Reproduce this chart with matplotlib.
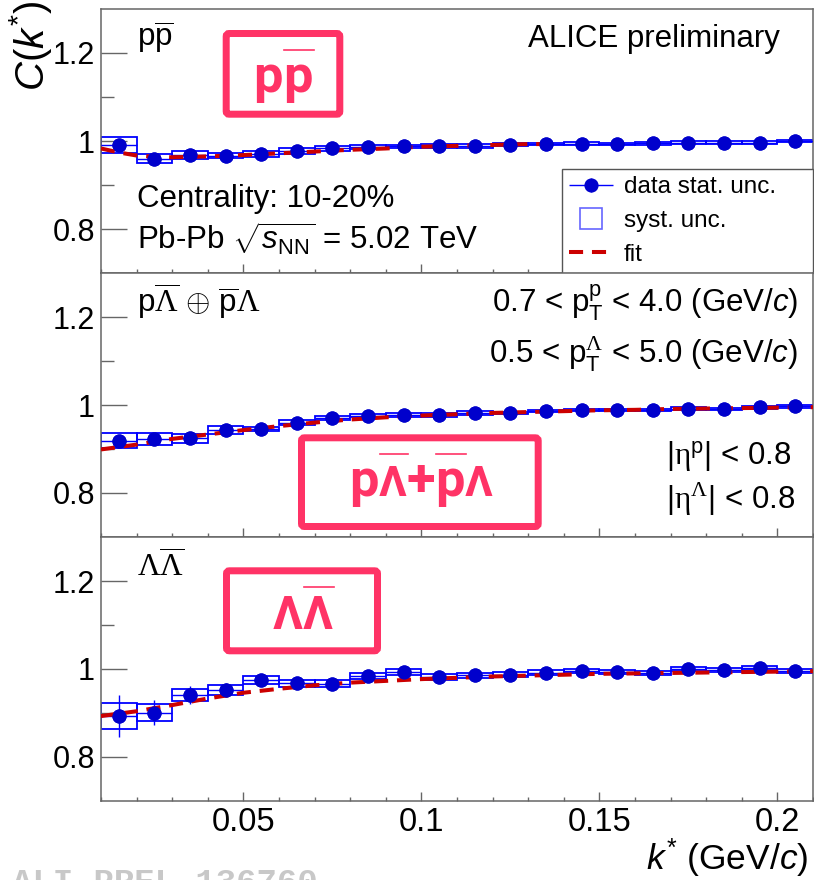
import matplotlib
matplotlib.use('Agg')
import matplotlib.pyplot as plt
from matplotlib.patches import Rectangle, FancyBboxPatch
from matplotlib.lines import Line2D
from matplotlib.transforms import IdentityTransform
from matplotlib.legend_handler import HandlerErrorbar, HandlerPatch
from matplotlib.container import ErrorbarContainer
import matplotlib.ticker as mticker

# ---------------- data ----------------
k = [0.015, 0.025, 0.035, 0.045, 0.055, 0.065, 0.075, 0.085, 0.095, 0.105,
     0.115, 0.125, 0.135, 0.145, 0.155, 0.165, 0.175, 0.185, 0.195, 0.205]

pp_c = [0.991, 0.960, 0.968, 0.967, 0.971, 0.977, 0.983, 0.986, 0.988, 0.989,
        0.989, 0.992, 0.993, 0.994, 0.993, 0.995, 0.996, 0.996, 0.996, 1.000]
pp_stat = [0.008, 0.005, 0.004, 0.004, 0.003, 0.003, 0.003, 0.003, 0.003, 0.002,
           0.002, 0.002, 0.002, 0.002, 0.002, 0.002, 0.002, 0.002, 0.002, 0.002]
pp_syst = [0.019, 0.011, 0.009, 0.006, 0.007, 0.006, 0.006, 0.005, 0.004, 0.004,
           0.004, 0.004, 0.003, 0.003, 0.003, 0.003, 0.003, 0.003, 0.003, 0.003]
pp_fit_k = [0.010, 0.015, 0.020, 0.025, 0.030, 0.040, 0.050, 0.060, 0.070, 0.080,
            0.090, 0.100, 0.110, 0.120, 0.130, 0.135]
pp_fit = [0.983, 0.974, 0.967, 0.964, 0.963, 0.965, 0.968, 0.972, 0.976, 0.980,
          0.983, 0.987, 0.989, 0.991, 0.993, 0.993]

pl_c = [0.919, 0.922, 0.924, 0.943, 0.946, 0.960, 0.970, 0.976, 0.977, 0.977,
        0.982, 0.982, 0.986, 0.989, 0.989, 0.989, 0.992, 0.991, 0.995, 0.997]
pl_stat = [0.006, 0.005, 0.004, 0.004, 0.003, 0.003, 0.003, 0.003, 0.003, 0.002,
           0.002, 0.002, 0.002, 0.002, 0.002, 0.002, 0.002, 0.002, 0.002, 0.002]
pl_syst = [0.017, 0.014, 0.011, 0.010, 0.005, 0.006, 0.005, 0.004, 0.004, 0.004,
           0.004, 0.003, 0.003, 0.003, 0.003, 0.003, 0.003, 0.003, 0.003, 0.003]
fit_k = [0.01, 0.02, 0.03, 0.04, 0.05, 0.06, 0.07, 0.08, 0.09, 0.10, 0.11,
         0.12, 0.13, 0.14, 0.15, 0.16, 0.17, 0.18, 0.19, 0.20, 0.21]
pl_fit = [0.899, 0.910, 0.923, 0.933, 0.943, 0.952, 0.960, 0.967, 0.972, 0.976, 0.979,
          0.982, 0.984, 0.986, 0.988, 0.989, 0.991, 0.992, 0.993, 0.994, 0.995]

ll_c = [0.893, 0.901, 0.941, 0.952, 0.976, 0.968, 0.967, 0.984, 0.993, 0.982,
        0.986, 0.987, 0.992, 0.995, 0.993, 0.991, 1.000, 0.998, 1.002, 0.996]
ll_stat = [0.048, 0.029, 0.021, 0.016, 0.012, 0.010, 0.009, 0.008, 0.007, 0.007,
           0.006, 0.006, 0.005, 0.005, 0.005, 0.005, 0.004, 0.004, 0.004, 0.004]
ll_syst = [0.029, 0.019, 0.013, 0.011, 0.009, 0.008, 0.0075, 0.0075, 0.0075, 0.007,
           0.006, 0.006, 0.006, 0.005, 0.005, 0.005, 0.005, 0.005, 0.005, 0.005]
ll_fit = [0.893, 0.904, 0.918, 0.933, 0.946, 0.955, 0.963, 0.969, 0.973, 0.977, 0.980,
          0.983, 0.985, 0.987, 0.989, 0.990, 0.991, 0.992, 0.993, 0.994, 0.995]

yticks_major = [0.8, 1.0, 1.2]
yticks_minor = [0.9, 1.1]

# ---------------- style ----------------
plt.rcParams.update({
    'font.family': ['Liberation Sans', 'DejaVu Sans'],
    'mathtext.fontset': 'custom',
    'mathtext.rm': 'Liberation Sans',
    'mathtext.it': 'Liberation Sans:italic',
    'mathtext.bf': 'Liberation Sans:bold',
    'mathtext.sf': 'Liberation Serif',
})

W, H, DPI = 814, 880, 100
FRAME = '#666666'
BLUE = '#0000ff'
MBLUE = '#0000cc'
RED = '#cc0000'
PINK = '#ff3366'
MS = 9.2

fig = plt.figure(figsize=(W / DPI, H / DPI), dpi=DPI)
gs = fig.add_gridspec(3, 1, left=101 / W, right=813 / W, top=1 - 9 / H,
                      bottom=1 - 801 / H, hspace=0)
axes = [fig.add_subplot(gs[i]) for i in range(3)]

fmt = mticker.FuncFormatter(lambda v, p: f'{v:g}')


def style(ax, show_x):
    ax.set_xlim(0.01, 0.21)
    ax.set_ylim(0.7, 1.3)
    ax.xaxis.set_major_locator(mticker.MultipleLocator(0.05))
    ax.xaxis.set_minor_locator(mticker.MultipleLocator(0.01))
    ax.yaxis.set_major_locator(mticker.FixedLocator(yticks_major))
    ax.yaxis.set_minor_locator(mticker.FixedLocator(yticks_minor))
    ax.xaxis.set_major_formatter(fmt)
    ax.yaxis.set_major_formatter(fmt)
    ax.tick_params(axis='y', which='major', direction='in', length=18.7, width=1.0,
                   color=FRAME, labelsize=22, pad=4.5, right=False)
    ax.tick_params(axis='y', which='minor', direction='in', length=9.4, width=1.0,
                   color=FRAME, right=False)
    ax.tick_params(axis='x', which='major', direction='in', length=6.5, width=1.0,
                   color=FRAME, labelsize=23.5, pad=4, top=False, labelbottom=show_x)
    ax.tick_params(axis='x', which='minor', direction='in', length=3.0, width=1.0,
                   color=FRAME, top=False)
    for s in ax.spines.values():
        s.set_color(FRAME)
        s.set_linewidth(1.1)


def draw(ax, c, stat, syst, fk, fv):
    ax.bar(k, [2 * s for s in syst], bottom=[ci - si for ci, si in zip(c, syst)],
           width=0.01, fill=False, edgecolor=BLUE, linewidth=1.3, zorder=2)
    eb = ax.errorbar(k, c, xerr=0.005, yerr=stat, fmt='o', ms=MS, color=MBLUE,
                     mfc=MBLUE, mec=MBLUE, ecolor=BLUE, elinewidth=1.0, capsize=0,
                     zorder=3)
    fl, = ax.plot(fk, fv, ls='--', color=RED, lw=2.9, dashes=(3.5, 2.2), zorder=4)
    ax.plot(k, c, 'o', ms=MS, color=MBLUE, zorder=5)
    return eb, fl


style(axes[0], False)
style(axes[1], False)
style(axes[2], True)

eb, fl = draw(axes[0], pp_c, pp_stat, pp_syst, pp_fit_k, pp_fit)
draw(axes[1], pl_c, pl_stat, pl_syst, fit_k, pl_fit)
draw(axes[2], ll_c, ll_stat, ll_syst, fit_k, ll_fit)

# ---------------- legend ----------------
syst_proxy = Rectangle((0, 0), 1, 1, fill=False, edgecolor='#6666ff', linewidth=1.2)


def square(legend, orig_handle, xdescent, ydescent, width, height, fontsize):
    s = 15.5
    return Rectangle((width / 2 - xdescent - s / 2, height / 2 - ydescent - s / 2), s, s)


leg = axes[0].legend([eb, syst_proxy, fl], ['data stat. unc.', 'syst. unc.', 'fit'],
                     loc='lower left', bbox_to_anchor=(0.647, 0.0, 0.353, 0.4),
                     mode='expand', borderaxespad=0, fontsize=17.5, handlelength=1.8,
                     handletextpad=0.45, borderpad=0.3, labelspacing=0.48,
                     fancybox=False, framealpha=1, edgecolor='#555555',
                     handler_map={ErrorbarContainer: HandlerErrorbar(xerr_size=0.9, yerr_size=0.3),
                                  Rectangle: HandlerPatch(patch_func=square)})
leg.get_frame().set_linewidth(1.0)
leg.set_zorder(10)

# ---------------- texts ----------------
FS = 22.5
a0, a1, a2 = axes
a0.text(0.0506, 0.857, r'p$\overline{\mathrm{p}}$', transform=a0.transAxes, fontsize=FS,
        va='baseline', ha='left')
a0.text(0.9537, 0.857, 'ALICE preliminary', transform=a0.transAxes, fontsize=FS,
        va='baseline', ha='right')
a0.text(0.0506, 0.251, 'Centrality: 10-20%', transform=a0.transAxes, fontsize=FS,
        va='baseline', ha='left')
a0.text(0.0506, 0.087, r'Pb-Pb $\sqrt{s_{\mathrm{NN}}}$ = 5.02 TeV', transform=a0.transAxes,
        fontsize=FS, va='baseline', ha='left')

a1.text(0.0506, 0.849, r'p$\overline{\mathsf{\Lambda}}$ $\oplus$ $\overline{\mathrm{p}}\mathsf{\Lambda}$',
        transform=a1.transAxes, fontsize=FS, va='baseline', ha='left')
a1.text(0.979, 0.849, r'0.7 < $\mathrm{p}_{\mathrm{T}}^{\mathrm{p}}$ < 4.0 (GeV/$c$)',
        transform=a1.transAxes, fontsize=FS, va='baseline', ha='right')
a1.text(0.979, 0.657, r'0.5 < $\mathrm{p}_{\mathrm{T}}^{\mathsf{\Lambda}}$ < 5.0 (GeV/$c$)',
        transform=a1.transAxes, fontsize=FS, va='baseline', ha='right')
a1.text(0.970, 0.275, r'$|\mathsf{\eta}^{\mathrm{p}}|$ < 0.8',
        transform=a1.transAxes, fontsize=FS, va='baseline', ha='right')
a1.text(0.975, 0.106, r'$|\mathsf{\eta}^{\mathsf{\Lambda}}|$ < 0.8',
        transform=a1.transAxes, fontsize=FS, va='baseline', ha='right')

a2.text(0.0506, 0.848, r'$\mathsf{\Lambda}\overline{\mathsf{\Lambda}}$',
        transform=a2.transAxes, fontsize=FS, va='baseline', ha='left')

fig.text(30 / W, 1 - 1 / H, r'$C(k^{*})$', rotation=90, ha='center', va='top', fontsize=29)
fig.text(808 / W, 1 - 870 / H, r'$k^{*}$ (GeV/$c$)', ha='right', va='baseline', fontsize=25.5)

fig.text(12, H - 892, 'ALI-PREL-136760', transform=IdentityTransform(),
         family='Liberation Mono', fontweight='bold', color='#c8c8c8', fontsize=24.5,
         va='baseline', ha='left')

# ---------------- pink annotation boxes ----------------
renderer = fig.canvas.get_renderer()


def pink_box(x0, y0, x1, y1):
    lw = 7
    ins = lw / 2
    p = FancyBboxPatch((x0 + ins, H - (y1 - ins)), x1 - x0 - 2 * ins, y1 - y0 - 2 * ins,
                       boxstyle='round,pad=0,rounding_size=3', transform=IdentityTransform(),
                       fill=False, edgecolor=PINK, linewidth=lw * 72 / DPI, zorder=20)
    fig.add_artist(p)


def pink_text(segments, cx, base):
    objs = []
    for s, fs, ol in segments:
        t = fig.text(0, H - base, s, fontsize=fs, fontweight='bold', family='Roboto',
                     color=PINK, va='baseline', ha='left', transform=IdentityTransform(),
                     zorder=20)
        objs.append(t)
    widths = [t.get_window_extent(renderer).width for t in objs]
    x = cx - sum(widths) / 2
    for t, w, (s, fs, ol) in zip(objs, widths, segments):
        t.set_x(x)
        if ol:
            fig.add_artist(Line2D([x + 1, x + w + 1], [H - base + 42.5] * 2, color=PINK,
                                  lw=1.2, transform=IdentityTransform(), zorder=20))
        x += w


pink_box(222.7, 30, 343.3, 117.7)
pink_text([('p', 37.7, False), ('p', 37.7, True)], 283, 92)
pink_box(298, 434.3, 541.7, 530)
pink_text([('p', 37.7, False), ('Λ', 31, True), ('+', 37.7, False), ('p', 37.7, True),
           ('Λ', 31, False)], 421, 496)
pink_box(223, 567.3, 381, 654.3)
pink_text([('Λ', 33.4, False), ('Λ', 33.4, True)], 302.5, 629)

fig.savefig('out.png', dpi=DPI)
